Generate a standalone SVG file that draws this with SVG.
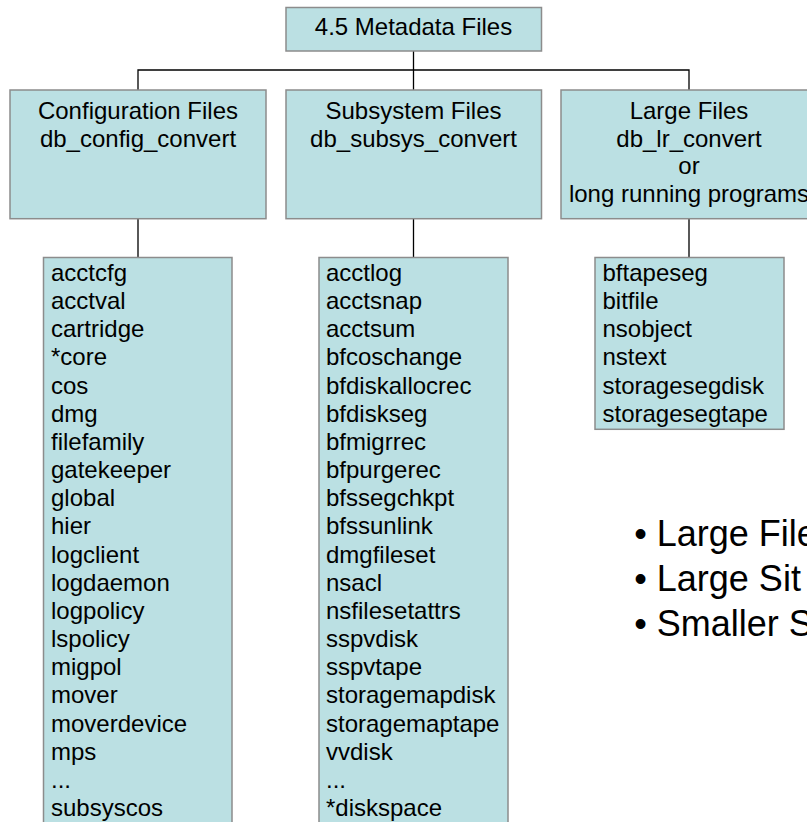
<svg xmlns="http://www.w3.org/2000/svg" width="807" height="822" viewBox="0 0 807 822">
<style>
.box{fill:#BBE0E3;stroke:#8C8C8C;stroke-width:1.5}
.t{font-family:"Liberation Sans",Arial,sans-serif;font-size:24px;fill:#000}
.c{text-anchor:middle}
.b{font-family:"Liberation Sans",Arial,sans-serif;font-size:36px;fill:#000}
.conn{stroke:#000;stroke-width:1.3;fill:none}
</style>
<rect width="807" height="822" fill="#fff"/>
<g id="connectors">
<path class="conn" d="M413.5,51V90M138,90V70H689V90M138,218.7V257.5M413.5,218.7V257.5M689,218.7V257.5"/>
</g>
<g id="root">
<rect class="box" x="286" y="7.5" width="255.5" height="43.5"/>
<text class="t c" x="413.5" y="35">4.5 Metadata Files</text>
</g>
<g id="config">
<rect class="box" x="10" y="90" width="256" height="128.7"/>
<text class="t c" x="138" y="119">Configuration Files</text>
<text class="t c" x="138" y="146.7">db_config_convert</text>
</g>
<g id="subsys">
<rect class="box" x="286" y="90" width="255.5" height="128.7"/>
<text class="t c" x="413.5" y="119">Subsystem Files</text>
<text class="t c" x="413.5" y="146.7">db_subsys_convert</text>
</g>
<g id="large">
<rect class="box" x="561" y="90" width="256" height="128.7"/>
<text class="t c" x="689" y="119">Large Files</text>
<text class="t c" x="689" y="146.7">db_lr_convert</text>
<text class="t c" x="689" y="174.3">or</text>
<text class="t c" x="689" y="202">long running programs</text>
</g>
<g id="config-list">
<rect class="box" x="43.5" y="257.5" width="188.5" height="580"/>
<text class="t" x="51">
<tspan x="51" y="280.8">acctcfg</tspan>
<tspan x="51" y="309">acctval</tspan>
<tspan x="51" y="337.1">cartridge</tspan>
<tspan x="51" y="365.3">*core</tspan>
<tspan x="51" y="393.5">cos</tspan>
<tspan x="51" y="421.7">dmg</tspan>
<tspan x="51" y="449.8">filefamily</tspan>
<tspan x="51" y="478">gatekeeper</tspan>
<tspan x="51" y="506.2">global</tspan>
<tspan x="51" y="534.3">hier</tspan>
<tspan x="51" y="562.5">logclient</tspan>
<tspan x="51" y="590.7">logdaemon</tspan>
<tspan x="51" y="618.9">logpolicy</tspan>
<tspan x="51" y="647">lspolicy</tspan>
<tspan x="51" y="675.2">migpol</tspan>
<tspan x="51" y="703.4">mover</tspan>
<tspan x="51" y="731.5">moverdevice</tspan>
<tspan x="51" y="759.7">mps</tspan>
<tspan x="51" y="787.9">...</tspan>
<tspan x="51" y="816">subsyscos</tspan>
</text>
</g>
<g id="subsys-list">
<rect class="box" x="319" y="257.5" width="189" height="580"/>
<text class="t" x="326">
<tspan x="326" y="280.8">acctlog</tspan>
<tspan x="326" y="309">acctsnap</tspan>
<tspan x="326" y="337.1">acctsum</tspan>
<tspan x="326" y="365.3">bfcoschange</tspan>
<tspan x="326" y="393.5">bfdiskallocrec</tspan>
<tspan x="326" y="421.7">bfdiskseg</tspan>
<tspan x="326" y="449.8">bfmigrrec</tspan>
<tspan x="326" y="478">bfpurgerec</tspan>
<tspan x="326" y="506.2">bfssegchkpt</tspan>
<tspan x="326" y="534.3">bfssunlink</tspan>
<tspan x="326" y="562.5">dmgfileset</tspan>
<tspan x="326" y="590.7">nsacl</tspan>
<tspan x="326" y="618.9">nsfilesetattrs</tspan>
<tspan x="326" y="647">sspvdisk</tspan>
<tspan x="326" y="675.2">sspvtape</tspan>
<tspan x="326" y="703.4">storagemapdisk</tspan>
<tspan x="326" y="731.5">storagemaptape</tspan>
<tspan x="326" y="759.7">vvdisk</tspan>
<tspan x="326" y="787.9">...</tspan>
<tspan x="326" y="816">*diskspace</tspan>
</text>
</g>
<g id="large-list">
<rect class="box" x="595" y="257.5" width="189" height="171.8"/>
<text class="t" x="602.5">
<tspan x="602.5" y="280.8">bftapeseg</tspan>
<tspan x="602.5" y="309">bitfile</tspan>
<tspan x="602.5" y="337.1">nsobject</tspan>
<tspan x="602.5" y="365.3">nstext</tspan>
<tspan x="602.5" y="393.5">storagesegdisk</tspan>
<tspan x="602.5" y="421.7">storagesegtape</tspan>
</text>
</g>
<g id="notes">
<text class="b" x="634.2" y="545.7">• Large File</text>
<text class="b" x="634.2" y="590.7">• Large Sit</text>
<text class="b" x="634.2" y="635.7">• Smaller S</text>
</g>
</svg>
